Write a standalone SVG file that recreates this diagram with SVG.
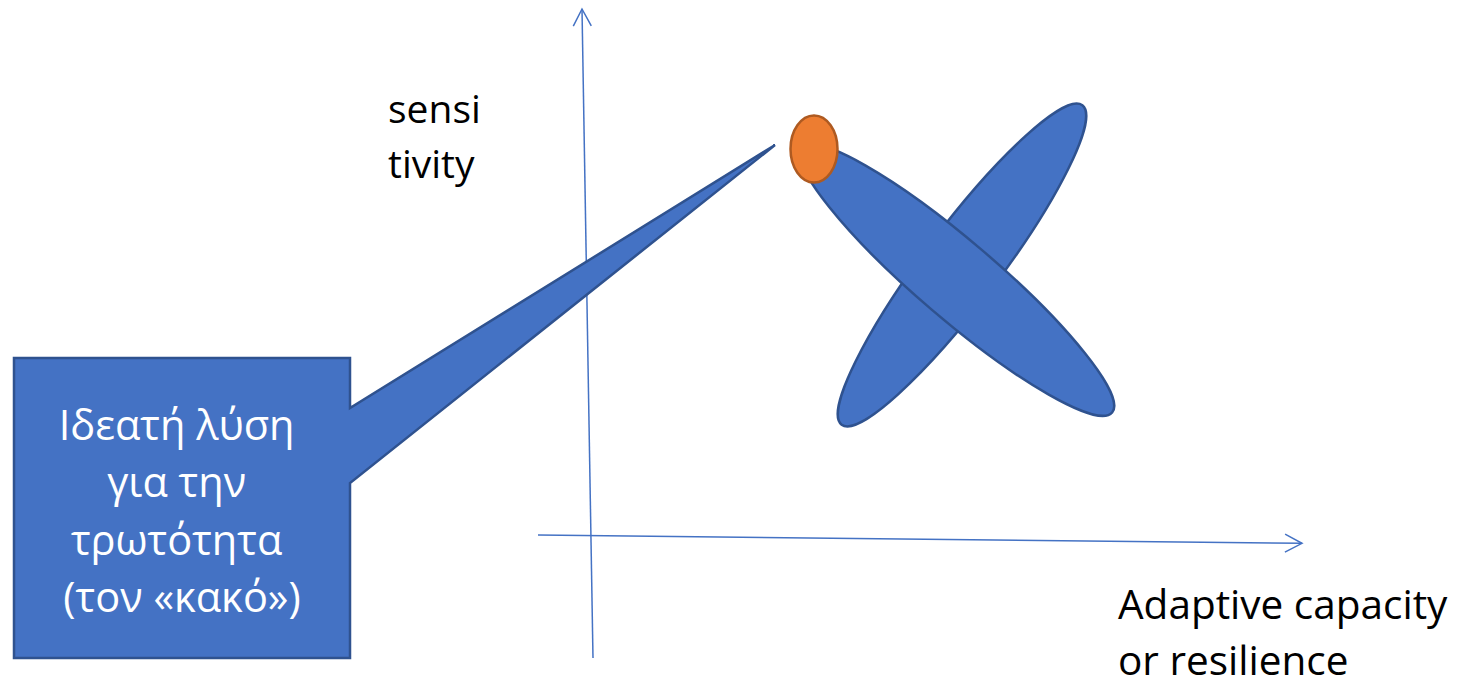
<svg xmlns="http://www.w3.org/2000/svg" width="1468" height="688" viewBox="0 0 1468 688">
  <defs>
    <marker id="arrow" markerUnits="userSpaceOnUse" markerWidth="24" markerHeight="24" viewBox="-20 -12 24 24" refX="0" refY="0" orient="auto">
      <path d="M-17,-9 L0,0 L-17,9" fill="none" stroke="#4472C4" stroke-width="1.5"/>
    </marker>
  </defs>
  <style>
    .axis { stroke: #4472C4; stroke-width: 1.5; fill: none; }
    .blue { fill: #4472C4; stroke: #2F528F; stroke-width: 2.5; }
    .orange { fill: #ED7D31; stroke: #AE5A21; stroke-width: 2.5; }
    .lbl { font-family: "Open Sans", "Noto Sans", sans-serif; fill: #000000; }
    .wt { font-family: "Open Sans", "Noto Sans", sans-serif; fill: #FFFFFF; font-size: 41.5px; text-anchor: middle; }
  </style>
  <rect width="1468" height="688" fill="#FFFFFF"/>
  <g id="connectors">
    <line class="axis" x1="593" y1="658" x2="582" y2="9" marker-end="url(#arrow)"/>
    <line class="axis" x1="538" y1="535" x2="1302" y2="543.3" marker-end="url(#arrow)"/>
  </g>
  <g id="ellipse-back">
    <ellipse class="blue" cx="962" cy="265" rx="200" ry="38" transform="rotate(-53 962 265)"/>
  </g>
  <g id="ellipse-front">
    <ellipse class="blue" cx="957" cy="280" rx="204" ry="39" transform="rotate(40.5 957 280)"/>
  </g>
  <g id="ideal-point">
    <ellipse class="orange" cx="814" cy="149" rx="23.5" ry="33.5"/>
  </g>
  <g id="callout">
    <path class="blue" d="M14,358 L350,358 L350,408 L775,145 L350,483 L350,658 L14,658 Z" stroke-width="2"/>
    <text class="wt">
      <tspan x="182" y="440">Ιδεατή λύση</tspan>
      <tspan x="182" y="497">για την</tspan>
      <tspan x="182" y="555">τρωτότητα</tspan>
      <tspan x="182" y="612">(τον «κακό»)</tspan>
    </text>
  </g>
  <g id="y-label">
    <text class="lbl" font-size="39">
      <tspan x="388" y="123">sensi</tspan>
      <tspan x="388" y="178">tivity</tspan>
    </text>
  </g>
  <g id="x-label">
    <text class="lbl" font-size="40.5">
      <tspan x="1118" y="619">Adaptive capacity</tspan>
      <tspan x="1118" y="675">or resilience</tspan>
    </text>
  </g>
</svg>
